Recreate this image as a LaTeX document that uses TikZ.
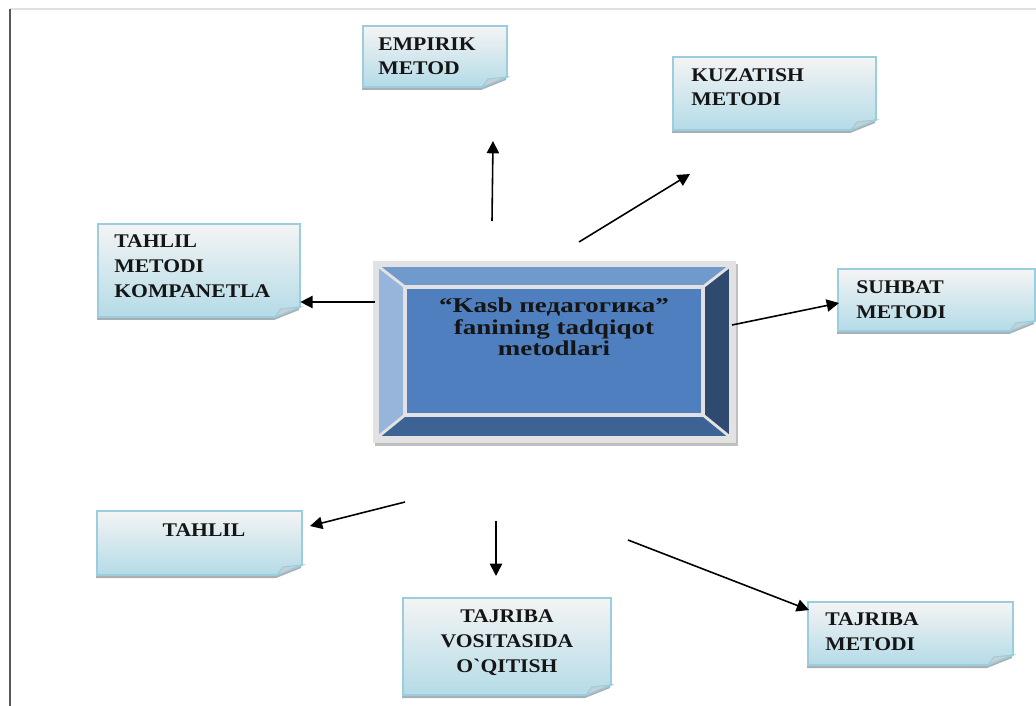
\documentclass[tikz,border=0pt]{standalone}
\usepackage{fontspec}
\setmainfont{Liberation Serif}
\newfontfamily\boxfnt[FakeStretch=1.12]{Liberation Serif}
\newfontfamily\ctrfnt[FakeStretch=1.28]{Liberation Serif}
\usetikzlibrary{arrows.meta}
\definecolor{boxtop}{HTML}{F4F4F4}
\definecolor{boxbot}{HTML}{B4DBE7}
\definecolor{boxline}{HTML}{9ACDDD}
\definecolor{boxshad}{HTML}{A9AFB2}
\definecolor{foldc}{HTML}{C9CFD2}
\definecolor{facec}{HTML}{4F7FBF}
\definecolor{bevtop}{HTML}{7099CC}
\definecolor{bevleft}{HTML}{97B5DB}
\definecolor{bevright}{HTML}{2E4A6E}
\definecolor{bevbot}{HTML}{3D6394}
\definecolor{framec}{HTML}{E2E2E2}
\definecolor{txtc}{HTML}{151515}
\newcommand\notebox[5]{%
  \fill[boxshad] ({#2-1},{#3+3}) -- ({#4-1},{#3+3}) -- ({#4-1},{#5+3-10}) -- ({#4-26},{#5+3}) -- ({#2-1},{#5+3}) -- cycle;
  \path[nbbody] (#2,#3) -- (#4,#3) -- (#4,{#5-10}) -- ({#4-25},#5) -- (#2,#5) -- cycle;
  \filldraw[nbfold] (#4,{#5-10}) -- ({#4-25},#5) -- ({#4-19},{#5-8}) -- cycle;
  \node[nbnode, minimum width={(#4-#2)*0.02cm}, minimum height={(#5-#3)*0.02cm}] (#1) at ({(#2+#4)/2},{(#3+#5)/2}) {};
}
\begin{document}
\begin{tikzpicture}[x=0.02cm,y=-0.02cm,
  nbbody/.style={draw=boxline, line width=1pt, top color=boxtop, bottom color=boxbot},
  nbfold/.style={fill=foldc, draw=boxline, line width=0.6pt},
  nbnode/.style={inner sep=0pt, draw=none},
  nbtext/.style={inner sep=0pt, font=\boxfnt\bfseries\fontsize{11}{14.2}\selectfont, text=txtc},
  arr/.style={line width=0.9pt, -{Triangle[length=7pt,width=7pt]}},
  sepline/.style={draw=framec, line width=1.6pt}]
\useasboundingbox (0,0) rectangle (1036,706);
\fill[white] (0,0) rectangle (1036,706);
% page edges
\draw[draw=black!12, line width=1.2pt] (10,9) -- (1036,9);
\draw[draw=black!65, line width=0.6pt] (10,9) -- (10,706);

% note boxes
\notebox{empirik}{363}{26}{507}{87}
\notebox{kuzatish}{673}{57}{876}{130}
\notebox{suhbat}{838}{269}{1035}{331}
\notebox{tahlilm}{98}{224}{300}{317}
\notebox{tahlil}{97}{511}{302}{575}
\notebox{vosita}{403}{598}{611}{695}
\notebox{tajriba}{808}{602}{1013}{665}

% (anchor=base is the baseline of the last line)
\node[nbtext, anchor=base west, align=left] (t1) at (378,75) {EMPIRIK\\METOD};
\node[nbtext, anchor=base west, align=left] (t2) at (691,106) {KUZATISH\\METODI};
\node[nbtext, anchor=base west, align=left] (t3) at (856,318) {SUHBAT\\METODI};
\node[nbtext, anchor=base west, align=left] (t4) at (114,297) {TAHLIL\\METODI\\KOMPANETLA};
\node[nbtext, anchor=base] (t5) at (204,536) {TAHLIL};
\node[nbtext, anchor=base, align=center] (t6) at (507,672) {TAJRIBA\\VOSITASIDA\\O`QITISH};
\node[nbtext, anchor=base west, align=left] (t7) at (825,650) {TAJRIBA\\METODI};

% central bevel box
\fill[black!25] (375,264) rectangle (738,446);
\fill[framec] (373,261) rectangle (736,443);
\fill[bevtop] (378,266) -- (730,266) -- (703,287) -- (405,287) -- cycle;
\fill[bevleft] (378,266) -- (405,287) -- (405,415) -- (378,437) -- cycle;
\fill[bevright] (730,266) -- (730,437) -- (703,415) -- (703,287) -- cycle;
\fill[bevbot] (378,437) -- (405,415) -- (703,415) -- (730,437) -- cycle;
\fill[facec] (405,287) rectangle (703,415);
\draw[sepline] (378,266) -- (405,287) (730,266) -- (703,287) (378,437) -- (405,415) (730,437) -- (703,415);
\draw[draw=framec, line width=2.6pt] (405,287) rectangle (703,415);
\draw[draw=framec, line width=2.2pt] (377,265) rectangle (731,438);
\node[inner sep=0pt, minimum width=7.26cm, minimum height=3.64cm] (core) at (554.5,352) {};
\node[inner sep=0pt, anchor=base, align=center, text=txtc, font=\ctrfnt\bfseries\fontsize{12}{12.4}\selectfont] (ctext) at (554,356) {“Kasb педагогика”\\fanining tadqiqot\\metodlari};

% connectors
\coordinate (s1) at (492,221);
\coordinate (e1) at (493,141);
\coordinate (s2) at (579,242);
\coordinate (e2) at (690,174);
\coordinate (s3) at (375,302);
\coordinate (s4) at (732,325);
\coordinate (e4) at (839,303);
\coordinate (s5) at (405,502);
\coordinate (e5) at (310,526);
\coordinate (s6) at (496,521);
\coordinate (e6) at (496,576);
\coordinate (s7) at (628,540);
\coordinate (e7) at (809,610);
\draw[arr] (s1) -- (e1);
\draw[arr] (s2) -- (e2);
\draw[arr] (s3) -- (tahlilm.east |- s3);
\draw[arr] (s4) -- (e4);
\draw[arr] (s5) -- (e5);
\draw[arr] (s6) -- (e6);
\draw[arr] (s7) -- (e7);
\end{tikzpicture}
\end{document}
